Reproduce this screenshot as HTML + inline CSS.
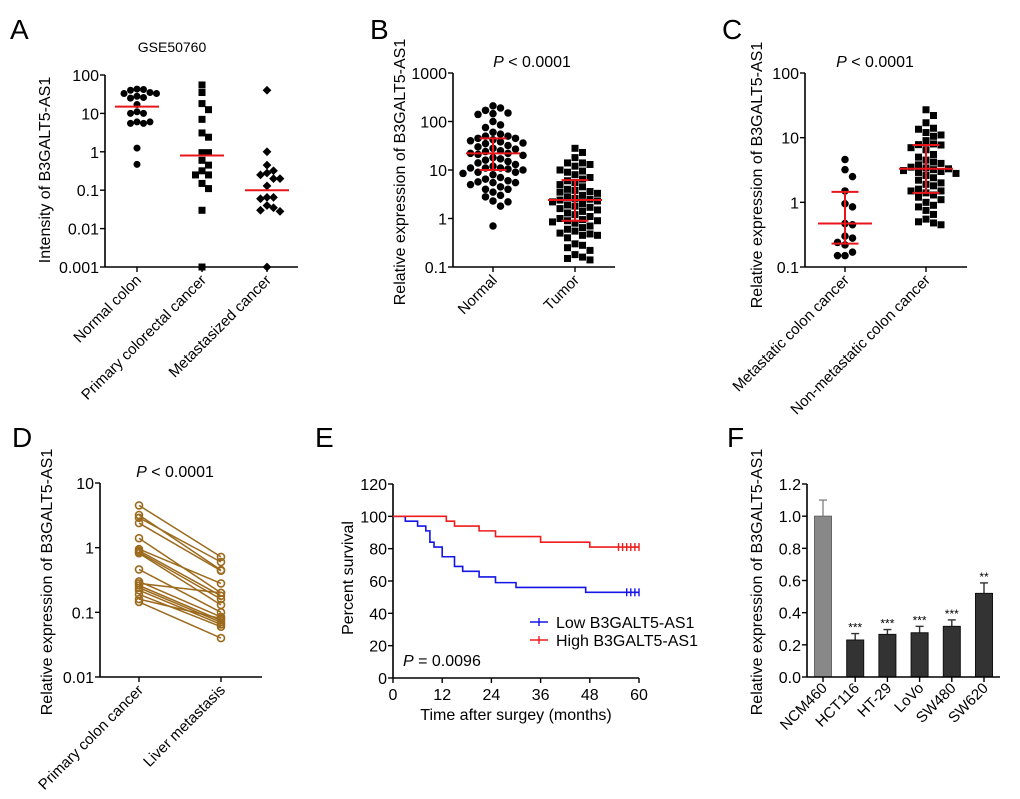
<!DOCTYPE html>
<html><head><meta charset="utf-8"><style>
html,body{margin:0;padding:0;background:#fff}
svg{display:block;font-family:"Liberation Sans",Arial,sans-serif}
</style></head><body>
<svg id="fig" width="1020" height="799" viewBox="0 0 1020 799"></svg>
<script>
// ---------- DATA ----------
const aCats=["Normal colon","Primary colorectal cancer","Metastasized cancer"];
const aNormal=[43,42,40,35,33,33,28,26,25,17,11,10,10,6,5.5,5.5,6,1.25,0.47];
const aPrimary=[55,35,18,12.5,7,3.1,2.4,0.95,0.95,0.6,0.45,0.32,0.25,0.25,0.15,0.11,0.03,0.001];
const aMeta=[40,1.0,0.45,0.32,0.28,0.25,0.2,0.2,0.13,0.065,0.065,0.06,0.04,0.035,0.03,0.028,0.001];
const aMedians=[15,0.8,0.1];
const aTicks=["0.001","0.01","0.1","1","10","100"];

const bCats=["Normal","Tumor"];
const bNormal=[210,190,170,150,145,140,100,85,75,60,55,50,50,45,45,42,40,38,36,35,32,30,28,27,25,24,22,22,21,20,18,17,16,15,14,13,12,11,11,11,10.5,10,9,9,8.5,8,7,6.5,6,5.7,5.5,5.5,5,4.5,4,4,3.5,3,2.8,2.3,2.2,1.8,0.7];
const bTumor=[28,23,18,14,14,13,12,10,9.5,9,8,7,6.5,6,5.5,5,4.5,4,3.8,3.6,3.5,3.3,3,2.8,2.6,2.5,2.4,2.3,2.2,2,1.9,1.8,1.7,1.6,1.5,1.4,1.3,1.2,1.1,1,0.95,0.9,0.9,0.85,0.8,0.7,0.65,0.6,0.55,0.5,0.48,0.45,0.45,0.4,0.3,0.28,0.25,0.22,0.18,0.16,0.15,0.14];
const bMedian=[22,2.4], bQ1=[10,0.9], bQ3=[45,6.2];
const bTicks=["0.1","1","10","100","1000"];

const cCats=["Metastatic colon cancer","Non-metastatic colon cancer"];
const cMeta=[4.6,3.2,2.5,1.5,0.95,0.85,0.47,0.45,0.3,0.28,0.24,0.22,0.17,0.15,0.15];
const cNon=[27,22,17,14,13.5,12,11,10.5,9,8,7.8,7.7,7,6.5,5.5,5,4.5,4.2,4,3.8,3.5,3.4,3.3,3.2,3.1,3,2.9,2.8,2.6,2.4,2.2,2,1.9,1.8,1.6,1.5,1.5,1.4,1.3,1.2,1.1,1,0.9,0.85,0.75,0.65,0.55,0.5,0.48,0.45];
const cMedian=[0.47,3.3], cQ1=[0.23,1.4], cQ3=[1.45,7.7];
const cTicks=["0.1","1","10","100"];

const dCats=["Primary colon cancer","Liver metastasis"];
const dPrimary=[4.5,3.2,2.9,2.4,1.4,0.95,0.9,0.85,0.82,0.46,0.3,0.28,0.26,0.24,0.22,0.19,0.16,0.145];
const dLiver=[0.72,0.45,0.6,0.44,0.2,0.28,0.18,0.16,0.13,0.1,0.085,0.2,0.075,0.07,0.065,0.06,0.08,0.04];
const dTicks=["0.01","0.1","1","10"];

const eLowT=[0,3,6,8,9,10,12,15,17,21,25,30,47,60];
const eLowS=[100,97,94,91,84,81,75,69,66,62.5,59,56,53,53];
const eLowCens=[57,58,59,60];
const eHighT=[0,13,15,21,25,36,48,60];
const eHighS=[100,97,94,91,87.5,84,81,81];
const eHighCens=[55,56,57,58,59,60];
const eXTicks=[0,12,24,36,48,60];
const eYTicks=[0,20,40,60,80,100,120];

const fCats=["NCM460","HCT116","HT-29","LoVo","SW480","SW620"];
const fVals=[1.0,0.23,0.265,0.275,0.315,0.52];
const fErr=[0.1,0.04,0.03,0.04,0.04,0.065];
const fStars=["","***","***","***","***","**"];
const fTicks=["0.0","0.2","0.4","0.6","0.8","1.0","1.2"];

// ---------- HELPERS ----------
const svg=document.getElementById('fig');
const NS='http://www.w3.org/2000/svg';
const TF=16;
function el(tag,attrs,parent){const e=document.createElementNS(NS,tag);for(const k in attrs)e.setAttribute(k,attrs[k]);(parent||svg).appendChild(e);return e;}
function txt(s,x,y,size,anchor,parent,extra){const t=el('text',Object.assign({x:x,y:y,'font-size':size,'text-anchor':anchor||'middle',fill:'#000'},extra||{}),parent);t.textContent=s;return t;}
function logY(lo,hi,y0,y1){return v=>y0-(Math.log10(v)-Math.log10(lo))/(Math.log10(hi)-Math.log10(lo))*(y0-y1);}
function linY(lo,hi,y0,y1){return v=>y0-(v-lo)/(hi-lo)*(y0-y1);}
function swarm(vals,cx,sy,d){const placed=[];const out=[];vals.forEach(v=>{const y=sy(v);let k=0,x=cx;for(;k<40;k++){const off=(k%2?1:-1)*Math.ceil(k/2)*d;x=cx+off;if(!placed.some(p=>Math.hypot(p[0]-x,p[1]-y)<d))break;}placed.push([x,y]);out.push([x,y]);});return out;}
function axes(g,x0,y0,x1,ytop,ticksY,sy,valsY){
  const ax=el('line',{x1:x0,y1:y0,x2:x0,y2:ytop,stroke:'#000','stroke-width':1.6},g);
  
  const bx=el('line',{x1:x0,y1:y0,x2:x1,y2:y0,stroke:'#000','stroke-width':1.6},g);
  
  ticksY.forEach((t,i)=>{const y=sy(valsY[i]);el('line',{x1:x0-5,y1:y,x2:x0,y2:y,stroke:'#000','stroke-width':1.4},g);
    const tl=txt(t,x0-6,y+6,TF,'end',g);});
}
function catLabel(g,s,x,y){const t=txt(s,x,y,15,'end',g,{transform:`rotate(-45 ${x} ${y})`});}
function ylab(g,s,x,y){const t=txt(s,x,y,16,'middle',g,{transform:`rotate(-90 ${x} ${y})`});}
function letter(s,x,y){const t=txt(s,x,y,28,'start');}
function pTitle(g,x,y){const t=el('text',{x:x,y:y,'font-size':16,'text-anchor':'middle'},g);const i=el('tspan',{'font-style':'italic'},t);i.textContent='P';const r=el('tspan',{},t);r.textContent=' < 0.0001';}
function marker(g,shape,x,y,s){
  let m;
  if(shape==='c')m=el('circle',{cx:x,cy:y,r:s/2,fill:'#000'},g);
  else if(shape==='s')m=el('rect',{x:x-s/2,y:y-s/2,width:s,height:s,fill:'#000'},g);
  else m=el('polygon',{points:`${x},${y-s/1.6} ${x+s/1.6},${y} ${x},${y+s/1.6} ${x-s/1.6},${y}`,fill:'#000'},g);
  
}
function errBars(g,cx,sy,med,q1,q3,w){
  const r='#e8161b';
  el('line',{x1:cx-w,y1:sy(med),x2:cx+w,y2:sy(med),stroke:r,'stroke-width':2},g);
  el('line',{x1:cx,y1:sy(q1),x2:cx,y2:sy(q3),stroke:r,'stroke-width':2},g);
  el('line',{x1:cx-w/2,y1:sy(q1),x2:cx+w/2,y2:sy(q1),stroke:r,'stroke-width':2},g);
  el('line',{x1:cx-w/2,y1:sy(q3),x2:cx+w/2,y2:sy(q3),stroke:r,'stroke-width':2},g);
}
const tickVals=t=>t.map(Number);

// ---------- PANEL A ----------
(function(){
  const g=el('g',{});
  const sy=logY(0.001,100,267,75);
  axes(g,105,267,298,75,aTicks,sy,tickVals(aTicks));
  const cx=[137,202,267];
  [aNormal,aPrimary,aMeta].forEach((arr,i)=>{swarm(arr,cx[i],sy,6.5).forEach(p=>marker(g,['c','s','d'][i],p[0],p[1],7));
    el('line',{x1:cx[i]-22,y1:sy(aMedians[i]),x2:cx[i]+22,y2:sy(aMedians[i]),stroke:'#e8161b','stroke-width':2},g);
    el('line',{x1:cx[i],y1:267,x2:cx[i],y2:272,stroke:'#000','stroke-width':1.4},g);
    catLabel(g,aCats[i],cx[i]+5,281);});
  const t=txt('GSE50760',172,52,14,'middle',g);
  ylab(g,'Intensity of B3GALT5-AS1',50,170);
  letter('A',10,39);
})();

// ---------- PANEL B ----------
(function(){
  const g=el('g',{});
  const sy=logY(0.1,1000,267,73);
  axes(g,453,267,615,73,bTicks,sy,tickVals(bTicks));
  const cx=[493,575];
  swarm(bNormal,cx[0],sy,7.5).forEach(p=>marker(g,'c',p[0],p[1],7.5));
  swarm(bTumor,cx[1],sy,7.5).forEach(p=>marker(g,'s',p[0],p[1],7));
  cx.forEach((c,i)=>{errBars(g,c,sy,bMedian[i],bQ1[i],bQ3[i],27);
    el('line',{x1:c,y1:267,x2:c,y2:272,stroke:'#000','stroke-width':1.4},g);catLabel(g,bCats[i],c+5,281);});
  pTitle(g,532,67);
  ylab(g,'Relative expression of B3GALT5-AS1',405,172);
  letter('B',370,39);
})();

// ---------- PANEL C ----------
(function(){
  const g=el('g',{});
  const sy=logY(0.1,100,267,73);
  axes(g,805,267,967,73,cTicks,sy,tickVals(cTicks));
  const cx=[845,926];
  swarm(cMeta,cx[0],sy,7.5).forEach(p=>marker(g,'c',p[0],p[1],7.5));
  swarm(cNon,cx[1],sy,7.5).forEach(p=>marker(g,'s',p[0],p[1],7));
  cx.forEach((c,i)=>{errBars(g,c,sy,cMedian[i],cQ1[i],cQ3[i],27);
    el('line',{x1:c,y1:267,x2:c,y2:272,stroke:'#000','stroke-width':1.4},g);catLabel(g,cCats[i],c+5,281);});
  pTitle(g,875,67);
  ylab(g,'Relative expression of B3GALT5-AS1',762,175);
  letter('C',722,39);
})();

// ---------- PANEL D ----------
(function(){
  const g=el('g',{});
  const sy=logY(0.01,10,677,483);
  axes(g,100,677,262,483,dTicks,sy,tickVals(dTicks));
  const cx=[139,221],col='#9c6a1c';
  dPrimary.forEach((v,i)=>{const l=el('line',{x1:cx[0],y1:sy(v),x2:cx[1],y2:sy(dLiver[i]),stroke:col,'stroke-width':1.5},g);
    });
  [dPrimary,dLiver].forEach((arr,j)=>arr.forEach(v=>{const c=el('circle',{cx:cx[j],cy:sy(v),r:3.5,fill:'none',stroke:col,'stroke-width':1.6},g);
    }));
  cx.forEach((c,i)=>{el('line',{x1:c,y1:677,x2:c,y2:682,stroke:'#000','stroke-width':1.4},g);catLabel(g,dCats[i],c+5,691);});
  pTitle(g,175,477);
  ylab(g,'Relative expression of B3GALT5-AS1',52,582);
  letter('D',12,447);
})();

// ---------- PANEL E ----------
(function(){
  const g=el('g',{});
  const sx=v=>393+v/60*(639-393), sy=linY(0,120,678,484);
  axes(g,393,678,639,484,eYTicks.map(String),sy,eYTicks);
  eXTicks.forEach(t=>{el('line',{x1:sx(t),y1:678,x2:sx(t),y2:683,stroke:'#000','stroke-width':1.4},g);
    const l=txt(String(t),sx(t),700,TF,'middle',g);});
  function km(T,S,C,col,name){let d=`M${sx(T[0])},${sy(S[0])}`;for(let i=1;i<T.length;i++){d+=`H${sx(T[i])}V${sy(S[i])}`;}
    const p=el('path',{d:d,fill:'none',stroke:col,'stroke-width':1.6},g);
    const last=S[S.length-1];C.forEach(c=>el('line',{x1:sx(c),y1:sy(last)-4,x2:sx(c),y2:sy(last)+4,stroke:col,'stroke-width':1.4},g));}
  km(eLowT,eLowS,eLowCens,'#1515e6','low-survival-curve');
  km(eHighT,eHighS,eHighCens,'#ee1c1c','high-survival-curve');
  [['Low B3GALT5-AS1','#1515e6',622],['High B3GALT5-AS1','#ee1c1c',640]].forEach(L=>{
    const lg=el('g',{},g);
    el('line',{x1:530,y1:L[2],x2:548,y2:L[2],stroke:L[1],'stroke-width':1.6},lg);
    el('line',{x1:539,y1:L[2]-4,x2:539,y2:L[2]+4,stroke:L[1],'stroke-width':1.4},lg);
    txt(L[0],556,L[2]+6,16,'start',lg);});
  const pt=el('text',{x:403,y:666,'font-size':16},g);const i=el('tspan',{'font-style':'italic'},pt);i.textContent='P';const r=el('tspan',{},pt);r.textContent=' = 0.0096';
  
  ylab(g,'Percent survival',353,578);
  const xt=txt('Time after surgey (months)',516,720,16,'middle',g);
  letter('E',315,447);
})();

// ---------- PANEL F ----------
(function(){
  const g=el('g',{});
  const sy=linY(0,1.2,677,484), x0=823, step=32.2, bw=17;
  fVals.forEach((v,i)=>{const cx=x0+i*step;
    el('line',{x1:cx,y1:sy(v),x2:cx,y2:sy(v+fErr[i]),stroke:i?'#333':'#888','stroke-width':1.4},g);
    el('line',{x1:cx-4,y1:sy(v+fErr[i]),x2:cx+4,y2:sy(v+fErr[i]),stroke:i?'#333':'#888','stroke-width':1.4},g);
    const b=el('rect',{x:cx-bw/2,y:sy(v),width:bw,height:677-sy(v),fill:i?'#333':'#888',stroke:i?'#111':'#666','stroke-width':1},g);
    
    if(fStars[i]){const s=txt(fStars[i],cx,sy(v+fErr[i])-2,12,'middle',g);}
    el('line',{x1:cx,y1:677,x2:cx,y2:682,stroke:'#000','stroke-width':1.4},g);
    catLabel(g,fCats[i],cx+5,689);});
  axes(g,807,677,1000,484,fTicks,sy,tickVals(fTicks));
  ylab(g,'Relative expression of B3GALT5-AS1',762,582);
  letter('F',727,447);
})();
</script>
</body></html>
